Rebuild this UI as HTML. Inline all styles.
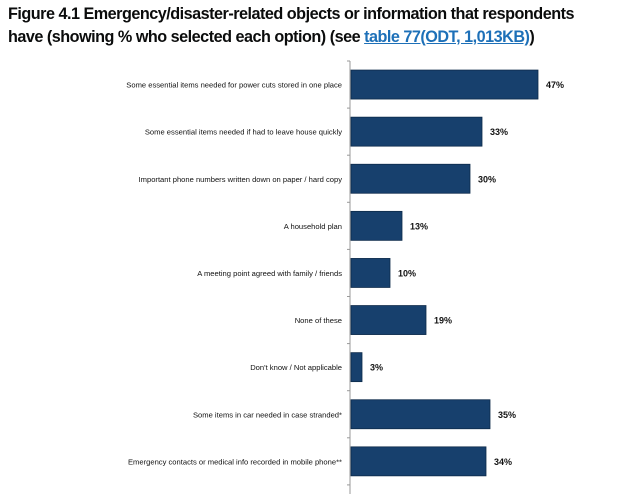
<!DOCTYPE html>
<html><head><meta charset="utf-8"><style>
body{margin:0;width:634px;height:494px;background:#fff;overflow:hidden;font-family:"Liberation Sans",sans-serif}
h1{position:absolute;left:8px;top:3px;margin:0;font-size:16.2px;line-height:23px;font-weight:bold;color:#0b0c0c;width:640px;letter-spacing:-0.5px;white-space:nowrap}
a{color:#1d70b8;text-decoration:underline}
svg{position:absolute;left:0;top:0}
</style></head><body>
<h1>Figure 4.1 Emergency/disaster-related objects or information that respondents<br>have (showing % who selected each option) (see <a href="#">table 77(ODT, 1,013KB)</a>)</h1>
<svg id="c" width="634" height="494"></svg>
<script>
const categories=["Some essential items needed for power cuts stored in one place","Some essential items needed if had to leave house quickly","Important phone numbers written down on paper / hard copy","A household plan","A meeting point agreed with family / friends","None of these","Don't know / Not applicable","Some items in car needed in case stranded*","Emergency contacts or medical info recorded in mobile phone**"];
const values=[47,33,30,13,10,19,3,35,34];
const valueLabels=["47%","33%","30%","13%","10%","19%","3%","35%","34%"];
const NS="http://www.w3.org/2000/svg",svg=document.getElementById('c');
const x0=350,pxPer=4.0,top0=61,step=47.1,bh=29;
const xs=v=>x0+v*pxPer, yc=i=>top0+step*(i+0.5);
function mk(t,a){const e=document.createElementNS(NS,t);for(const k in a)e.setAttribute(k,a[k]);svg.appendChild(e);return e;}
const ax=mk('line',{x1:x0,x2:x0,y1:top0,y2:494,stroke:'#999','stroke-width':1});


for(let i=0;i<=categories.length;i++){const t=mk('line',{x1:x0-3,x2:x0,y1:top0+step*i,y2:top0+step*i,stroke:'#999'});

}
categories.forEach((c,i)=>{
const r=mk('rect',{x:x0+1,y:yc(i)-bh/2,width:xs(values[i])-x0-1,height:bh,fill:'#17406d',stroke:'#0d2a4a','stroke-width':0.8});


const l=mk('text',{x:342,y:yc(i)+3,'text-anchor':'end','font-size':7.6,fill:'#111'});l.textContent=c;


const v=mk('text',{x:xs(values[i])+8,y:yc(i)+3.5,'font-size':9,'font-weight':'bold',fill:'#111'});v.textContent=valueLabels[i];


});
</script>
</body></html>
